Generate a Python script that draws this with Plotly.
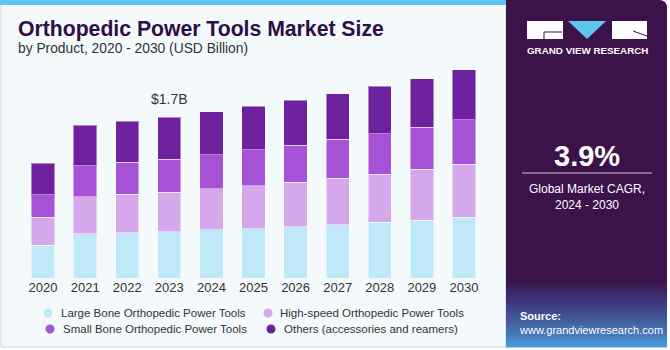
import plotly.graph_objects as go

years = ["2020", "2021", "2022", "2023", "2024", "2025", "2026", "2027", "2028", "2029", "2030"]
series_names = [
    "Large Bone Orthopedic Power Tools",
    "High-speed Orthopedic Power Tools",
    "Small Bone Orthopedic Power Tools",
    "Others (accessories and reamers)",
]
large_bone = [0.348, 0.465, 0.478, 0.489, 0.507, 0.521, 0.542, 0.563, 0.588, 0.612, 0.641]
high_speed = [0.292, 0.391, 0.405, 0.419, 0.433, 0.451, 0.469, 0.490, 0.507, 0.535, 0.560]
small_bone = [0.239, 0.327, 0.338, 0.348, 0.359, 0.380, 0.391, 0.412, 0.426, 0.444, 0.468]
others = [0.335, 0.430, 0.436, 0.444, 0.454, 0.461, 0.475, 0.482, 0.504, 0.513, 0.531]
colors = ["#bfe9f8", "#d5a8eb", "#a552d6", "#6d219c"]
label_year = "2023"
label_text = "$1.7B"
cagr_text = "3.9%"

W, H = 670, 350
ML, MR, MT, MB = 22, 185, 60, 72
PW, PH = W - ML - MR, H - MT - MB


def px(x):
    return (x - ML) / PW


def py(y):
    return (H - MB - y) / PH


fig = go.Figure()
for name, vals, col in zip(series_names, [large_bone, high_speed, small_bone, others], colors):
    fig.add_trace(go.Bar(
        x=years, y=vals, name=name, marker_color=col,
        marker_line=dict(color="rgba(255,255,255,0.45)", width=1),
        showlegend=False, hoverinfo="skip",
    ))

totals = [a + b + c + d for a, b, c, d in zip(large_bone, high_speed, small_bone, others)]
li = years.index(label_year)

shapes = []
ann = []
FONT = "Liberation Sans"

# left card
shapes.append(dict(type="rect", xref="paper", yref="paper", x0=px(1), x1=px(506), y0=py(347), y1=py(0),
                   fillcolor="#f4f9fc", line=dict(color="#cfd3d6", width=1), layer="below"))
shapes.append(dict(type="rect", xref="paper", yref="paper", x0=px(0), x1=px(506), y0=py(5), y1=py(0),
                   fillcolor="#5cc6ee", line=dict(width=0), layer="below"))
# right panel with rounded top-right corner
r = 8
path = (f"M {px(506)},{py(0)} L {px(667 - r)},{py(0)} Q {px(667)},{py(0)} {px(667)},{py(r)} "
        f"L {px(667)},{py(347)} L {px(506)},{py(347)} Z")
shapes.append(dict(type="path", xref="paper", yref="paper", path=path,
                   fillcolor="#3b1249", line=dict(width=0), layer="below"))


# gradient area at bottom of panel
def lerp(c1, c2, t):
    a = [int(c1[i:i + 2], 16) for i in (1, 3, 5)]
    b = [int(c2[i:i + 2], 16) for i in (1, 3, 5)]
    return "#%02x%02x%02x" % tuple(round(a[k] + (b[k] - a[k]) * t) for k in range(3))


stops = [(280, "#3b1249"), (300, "#3e347a"), (322, "#415f9e"), (347, "#4b9ddb")]
N = 34
g0, g1 = 280, 347
for i in range(N):
    ya = g0 + (g1 - g0) * i / N
    yb = g0 + (g1 - g0) * (i + 1) / N
    ym = (ya + yb) / 2
    for j in range(len(stops) - 1):
        if stops[j][0] <= ym <= stops[j + 1][0]:
            t = (ym - stops[j][0]) / (stops[j + 1][0] - stops[j][0])
            c = lerp(stops[j][1], stops[j + 1][1], t)
            break
    shapes.append(dict(type="rect", xref="paper", yref="paper", x0=px(506), x1=px(667),
                       y0=py(yb + 0.6), y1=py(ya), fillcolor=c, line=dict(width=0), layer="below"))

# logo
shapes.append(dict(type="rect", xref="paper", yref="paper", x0=px(527), x1=px(563), y0=py(39), y1=py(21),
                   fillcolor="white", line=dict(width=0)))
shapes.append(dict(type="path", xref="paper", yref="paper",
                   path=f"M {px(544)},{py(39)} L {px(544)},{py(32)} L {px(562)},{py(32)}",
                   line=dict(color="#3b1249", width=1)))
shapes.append(dict(type="path", xref="paper", yref="paper",
                   path=f"M {px(568)},{py(21)} L {px(606)},{py(21)} L {px(587)},{py(39)} Z",
                   fillcolor="#5cc6ee", line=dict(width=0)))
shapes.append(dict(type="rect", xref="paper", yref="paper", x0=px(612), x1=px(647), y0=py(39), y1=py(21),
                   fillcolor="white", line=dict(width=0)))
shapes.append(dict(type="path", xref="paper", yref="paper",
                   path=f"M {px(633)},{py(31)} L {px(647)},{py(36)}",
                   line=dict(color="#3b1249", width=1)))
ann.append(dict(text="<b>GRAND VIEW RESEARCH</b>", x=px(587), y=py(51), xref="paper", yref="paper",
                showarrow=False, font=dict(family=FONT, size=9.8, color="white"), xanchor="center", yanchor="middle"))

# CAGR
ann.append(dict(text=f"<b>{cagr_text}</b>", x=px(587), y=py(156), xref="paper", yref="paper",
                showarrow=False, font=dict(family=FONT, size=29, color="white"), xanchor="center", yanchor="middle"))
shapes.append(dict(type="line", xref="paper", yref="paper", x0=px(522), x1=px(652), y0=py(173), y1=py(173),
                   line=dict(color="#cbbfd6", width=1)))
ann.append(dict(text="Global Market CAGR,<br>2024 - 2030", x=px(587), y=py(197), xref="paper", yref="paper",
                showarrow=False, font=dict(family=FONT, size=12, color="white"), xanchor="center",
                yanchor="middle", align="center"))

# source
ann.append(dict(text="<b>Source:</b><br>www.grandviewresearch.com", x=px(517), y=py(323), xref="paper",
                yref="paper", showarrow=False, font=dict(family=FONT, size=11, color="white"),
                xanchor="left", yanchor="middle", align="left"))

# title
ann.append(dict(text="<b>Orthopedic Power Tools Market Size</b>", x=px(16), y=py(29), xref="paper", yref="paper",
                showarrow=False, font=dict(family=FONT, size=21.2, color="#2d0f45"), xanchor="left", yanchor="middle"))
ann.append(dict(text="by Product, 2020 - 2030 (USD Billion)", x=px(16), y=py(48), xref="paper", yref="paper",
                showarrow=False, font=dict(family=FONT, size=13.8, color="#333333"), xanchor="left", yanchor="middle"))

# data label
ann.append(dict(text=label_text, x=li, y=totals[li], xref="x", yref="y", yshift=18, showarrow=False,
                font=dict(family=FONT, size=14, color="#333333"), xanchor="center", yanchor="middle"))

# legend (manual)
leg_pos = [(48, 313, 59), (268, 313, 278), (50, 329, 61), (271, 329, 282)]
for (mx, my, tx), name, col in zip(leg_pos, series_names, colors):
    shapes.append(dict(type="circle", xref="paper", yref="paper", xsizemode="pixel", ysizemode="pixel",
                       xanchor=px(mx), yanchor=py(my), x0=-4.5, x1=4.5, y0=-4.5, y1=4.5,
                       fillcolor=col, line=dict(width=0)))
    ann.append(dict(text=name, x=px(tx), y=py(my), xref="paper", yref="paper", showarrow=False,
                    font=dict(family=FONT, size=11.5, color="#333333"), xanchor="left", yanchor="middle"))

fig.update_layout(
    width=W, height=H, barmode="stack", bargap=0.446,
    margin=dict(l=ML, r=MR, t=MT, b=MB),
    paper_bgcolor="white", plot_bgcolor="rgba(0,0,0,0)",
    shapes=shapes, annotations=ann, showlegend=False,
    xaxis=dict(type="category", range=[-0.5, 10.5], showgrid=False, showline=False, ticks="",
               tickfont=dict(family=FONT, size=13, color="#333333"), fixedrange=True),
    yaxis=dict(range=[0, PH / 94.7], visible=False, showgrid=False, fixedrange=True),
    font=dict(family=FONT),
)
fig.write_html("out.html")
